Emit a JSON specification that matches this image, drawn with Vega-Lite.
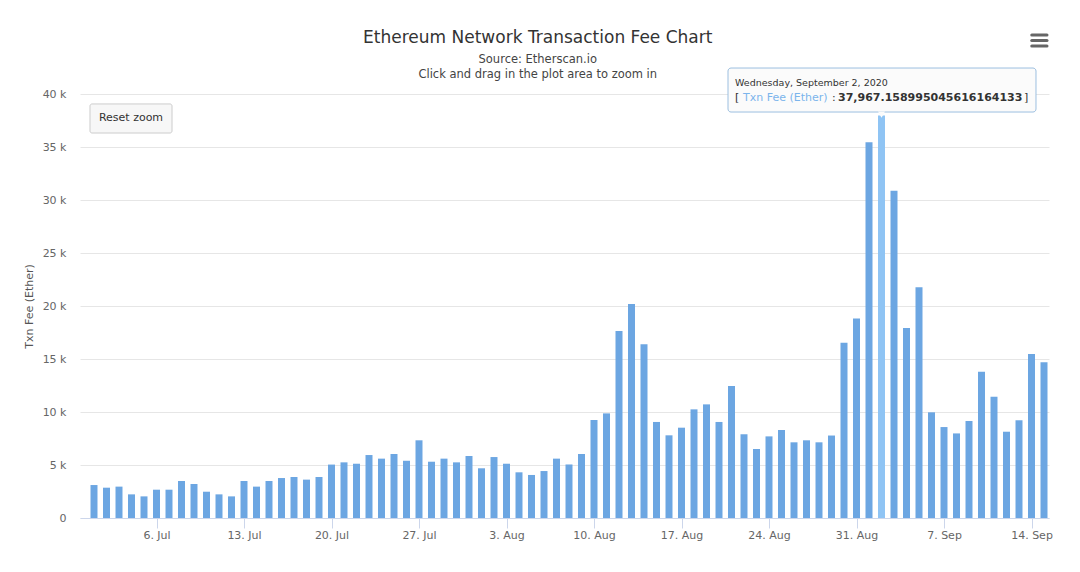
{
  "$schema": "https://vega.github.io/schema/vega-lite/v6.json",
  "autosize": "none",
  "width": 969,
  "height": 424,
  "padding": {"left": 80, "top": 94, "right": 31, "bottom": 54},
  "background": "#ffffff",
  "config": {
    "font": "DejaVu Sans",
    "view": {"stroke": null},
    "axis": {"labelFont": "DejaVu Sans", "titleFont": "DejaVu Sans"}
  },
  "title": {
    "text": "Ethereum Network Transaction Fee Chart",
    "subtitle": ["Source: Etherscan.io", "Click and drag in the plot area to zoom in"],
    "anchor": "middle",
    "frame": "bounds",
    "font": "DejaVu Sans",
    "fontSize": 17,
    "fontWeight": "normal",
    "color": "#333333",
    "subtitleFont": "DejaVu Sans",
    "subtitleFontSize": 11.5,
    "subtitleColor": "#444444",
    "subtitlePadding": 7,
    "subtitleLineHeight": 15,
    "offset": -48
  },
  "data": {
    "values": [
      {"date": "2020-07-01", "fee": 3110},
      {"date": "2020-07-02", "fee": 2860},
      {"date": "2020-07-03", "fee": 2960},
      {"date": "2020-07-04", "fee": 2230},
      {"date": "2020-07-05", "fee": 2040},
      {"date": "2020-07-06", "fee": 2670},
      {"date": "2020-07-07", "fee": 2670},
      {"date": "2020-07-08", "fee": 3490},
      {"date": "2020-07-09", "fee": 3210},
      {"date": "2020-07-10", "fee": 2480},
      {"date": "2020-07-11", "fee": 2230},
      {"date": "2020-07-12", "fee": 2040},
      {"date": "2020-07-13", "fee": 3490},
      {"date": "2020-07-14", "fee": 2960},
      {"date": "2020-07-15", "fee": 3490},
      {"date": "2020-07-16", "fee": 3770},
      {"date": "2020-07-17", "fee": 3870},
      {"date": "2020-07-18", "fee": 3620},
      {"date": "2020-07-19", "fee": 3870},
      {"date": "2020-07-20", "fee": 5040},
      {"date": "2020-07-21", "fee": 5250},
      {"date": "2020-07-22", "fee": 5120},
      {"date": "2020-07-23", "fee": 5940},
      {"date": "2020-07-24", "fee": 5600},
      {"date": "2020-07-25", "fee": 6040},
      {"date": "2020-07-26", "fee": 5400},
      {"date": "2020-07-27", "fee": 7330},
      {"date": "2020-07-28", "fee": 5310},
      {"date": "2020-07-29", "fee": 5600},
      {"date": "2020-07-30", "fee": 5250},
      {"date": "2020-07-31", "fee": 5850},
      {"date": "2020-08-01", "fee": 4690},
      {"date": "2020-08-02", "fee": 5750},
      {"date": "2020-08-03", "fee": 5120},
      {"date": "2020-08-04", "fee": 4310},
      {"date": "2020-08-05", "fee": 4060},
      {"date": "2020-08-06", "fee": 4430},
      {"date": "2020-08-07", "fee": 5600},
      {"date": "2020-08-08", "fee": 5050},
      {"date": "2020-08-09", "fee": 6040},
      {"date": "2020-08-10", "fee": 9250},
      {"date": "2020-08-11", "fee": 9870},
      {"date": "2020-08-12", "fee": 17640},
      {"date": "2020-08-13", "fee": 20190},
      {"date": "2020-08-14", "fee": 16380},
      {"date": "2020-08-15", "fee": 9060},
      {"date": "2020-08-16", "fee": 7800},
      {"date": "2020-08-17", "fee": 8520},
      {"date": "2020-08-18", "fee": 10250},
      {"date": "2020-08-19", "fee": 10720},
      {"date": "2020-08-20", "fee": 9060},
      {"date": "2020-08-21", "fee": 12450},
      {"date": "2020-08-22", "fee": 7900},
      {"date": "2020-08-23", "fee": 6510},
      {"date": "2020-08-24", "fee": 7700},
      {"date": "2020-08-25", "fee": 8300},
      {"date": "2020-08-26", "fee": 7140},
      {"date": "2020-08-27", "fee": 7330},
      {"date": "2020-08-28", "fee": 7140},
      {"date": "2020-08-29", "fee": 7780},
      {"date": "2020-08-30", "fee": 16540},
      {"date": "2020-08-31", "fee": 18830},
      {"date": "2020-09-01", "fee": 35440},
      {"date": "2020-09-02", "fee": 37967.158995045616},
      {"date": "2020-09-03", "fee": 30880},
      {"date": "2020-09-04", "fee": 17920},
      {"date": "2020-09-05", "fee": 21760},
      {"date": "2020-09-06", "fee": 9970},
      {"date": "2020-09-07", "fee": 8580},
      {"date": "2020-09-08", "fee": 7980},
      {"date": "2020-09-09", "fee": 9150},
      {"date": "2020-09-10", "fee": 13800},
      {"date": "2020-09-11", "fee": 11440},
      {"date": "2020-09-12", "fee": 8140},
      {"date": "2020-09-13", "fee": 9220},
      {"date": "2020-09-14", "fee": 15470},
      {"date": "2020-09-15", "fee": 14700}
    ]
  },
  "layer": [
    {
      "mark": {"type": "bar", "width": 7, "clip": false},
      "encoding": {
        "x": {
          "field": "date",
          "type": "temporal",
          "scale": {
            "type": "utc",
            "padding": 0,
            "domain": [
              {"year": 2020, "month": "jun", "date": 29, "hours": 21, "minutes": 7, "utc": true},
              {"year": 2020, "month": "sep", "date": 15, "hours": 9, "minutes": 36, "utc": true}
            ]
          },
          "axis": {
            "title": null,
            "format": "%-d. %b",
            "values": [
              {"year": 2020, "month": "jul", "date": 6, "utc": true},
              {"year": 2020, "month": "jul", "date": 13, "utc": true},
              {"year": 2020, "month": "jul", "date": 20, "utc": true},
              {"year": 2020, "month": "jul", "date": 27, "utc": true},
              {"year": 2020, "month": "aug", "date": 3, "utc": true},
              {"year": 2020, "month": "aug", "date": 10, "utc": true},
              {"year": 2020, "month": "aug", "date": 17, "utc": true},
              {"year": 2020, "month": "aug", "date": 24, "utc": true},
              {"year": 2020, "month": "aug", "date": 31, "utc": true},
              {"year": 2020, "month": "sep", "date": 7, "utc": true},
              {"year": 2020, "month": "sep", "date": 14, "utc": true}
            ],
            "grid": false,
            "domainColor": "#ccd6eb",
            "tickColor": "#ccd6eb",
            "tickSize": 10,
            "labelColor": "#666666",
            "labelFontSize": 11,
            "labelPadding": 1,
            "labelFlush": false
          }
        },
        "y": {
          "field": "fee",
          "type": "quantitative",
          "scale": {"domain": [0, 40000], "nice": false},
          "axis": {
            "title": "Txn Fee (Ether)",
            "titleColor": "#555555",
            "titleFontSize": 11,
            "titleFontWeight": "normal",
            "titlePadding": 8,
            "values": [0, 5000, 10000, 15000, 20000, 25000, 30000, 35000, 40000],
            "labelExpr": "datum.value == 0 ? '0' : (datum.value / 1000) + ' k'",
            "domain": false,
            "ticks": false,
            "gridColor": "#e6e6e6",
            "labelColor": "#666666",
            "labelFontSize": 11,
            "labelPadding": 14
          }
        },
        "color": {
          "condition": {"test": "datum.fee > 37000", "value": "#8fc4f4"},
          "value": "#6ca6e2"
        }
      }
    },
    {
      "data": {"values": [{}]},
      "mark": {"type": "rect", "fill": "#fbfbfb", "stroke": "#9cbfe0", "strokeWidth": 1, "cornerRadius": 3, "clip": false},
      "encoding": {
        "x": {"datum": {"year": 2020, "month": "aug", "date": 20, "hours": 17, "minutes": 17, "utc": true}, "type": "temporal"},
        "x2": {"datum": {"year": 2020, "month": "sep", "date": 14, "hours": 8, "minutes": 38, "utc": true}},
        "y": {"datum": 42450, "type": "quantitative"},
        "y2": {"datum": 38300}
      }
    },
    {
      "data": {"values": [{}]},
      "mark": {"type": "point", "shape": "triangle-down", "size": 50, "filled": true, "fill": "#fbfbfb", "opacity": 1, "clip": false},
      "encoding": {
        "x": {"datum": {"year": 2020, "month": "sep", "date": 2, "utc": true}, "type": "temporal"},
        "y": {"datum": 38050, "type": "quantitative"}
      }
    },
    {
      "data": {"values": [{}]},
      "mark": {"type": "text", "text": "Wednesday, September 2, 2020", "align": "left", "baseline": "alphabetic", "dx": 7, "fontSize": 9.5, "color": "#333333", "clip": false},
      "encoding": {
        "x": {"datum": {"year": 2020, "month": "aug", "date": 20, "hours": 17, "minutes": 17, "utc": true}, "type": "temporal"},
        "y": {"datum": 40750, "type": "quantitative"}
      }
    },
    {
      "data": {"values": [{}]},
      "mark": {"type": "text", "text": "[", "align": "left", "baseline": "alphabetic", "dx": 7, "fontSize": 11, "color": "#333333", "clip": false},
      "encoding": {
        "x": {"datum": {"year": 2020, "month": "aug", "date": 20, "hours": 17, "minutes": 17, "utc": true}, "type": "temporal"},
        "y": {"datum": 39340, "type": "quantitative"}
      }
    },
    {
      "data": {"values": [{}]},
      "mark": {"type": "text", "text": "Txn Fee (Ether)", "align": "left", "baseline": "alphabetic", "dx": 15, "fontSize": 11, "color": "#7cb5ec", "clip": false},
      "encoding": {
        "x": {"datum": {"year": 2020, "month": "aug", "date": 20, "hours": 17, "minutes": 17, "utc": true}, "type": "temporal"},
        "y": {"datum": 39340, "type": "quantitative"}
      }
    },
    {
      "data": {"values": [{}]},
      "mark": {"type": "text", "text": ":", "align": "left", "baseline": "alphabetic", "dx": 104, "fontSize": 11, "color": "#333333", "clip": false},
      "encoding": {
        "x": {"datum": {"year": 2020, "month": "aug", "date": 20, "hours": 17, "minutes": 17, "utc": true}, "type": "temporal"},
        "y": {"datum": 39340, "type": "quantitative"}
      }
    },
    {
      "data": {"values": [{}]},
      "mark": {"type": "text", "text": "37,967.158995045616164133", "align": "left", "baseline": "alphabetic", "dx": 110, "fontSize": 11, "fontWeight": "bold", "color": "#333333", "clip": false},
      "encoding": {
        "x": {"datum": {"year": 2020, "month": "aug", "date": 20, "hours": 17, "minutes": 17, "utc": true}, "type": "temporal"},
        "y": {"datum": 39340, "type": "quantitative"}
      }
    },
    {
      "data": {"values": [{}]},
      "mark": {"type": "text", "text": "]", "align": "left", "baseline": "alphabetic", "dx": 296, "fontSize": 11, "color": "#333333", "clip": false},
      "encoding": {
        "x": {"datum": {"year": 2020, "month": "aug", "date": 20, "hours": 17, "minutes": 17, "utc": true}, "type": "temporal"},
        "y": {"datum": 39340, "type": "quantitative"}
      }
    },
    {
      "data": {"values": [{}]},
      "mark": {"type": "rect", "fill": "#f7f7f7", "stroke": "#cccccc", "strokeWidth": 1, "cornerRadius": 2, "clip": false},
      "encoding": {
        "x": {"datum": {"year": 2020, "month": "jun", "date": 30, "hours": 16, "minutes": 19, "utc": true}, "type": "temporal"},
        "x2": {"datum": {"year": 2020, "month": "jul", "date": 7, "hours": 5, "minutes": 46, "utc": true}},
        "y": {"datum": 39060, "type": "quantitative"},
        "y2": {"datum": 36320}
      }
    },
    {
      "data": {"values": [{}]},
      "mark": {"type": "text", "text": "Reset zoom", "align": "center", "baseline": "middle", "fontSize": 11, "color": "#333333", "clip": false},
      "encoding": {
        "x": {"datum": {"year": 2020, "month": "jul", "date": 3, "hours": 23, "minutes": 2, "utc": true}, "type": "temporal"},
        "y": {"datum": 37740, "type": "quantitative"}
      }
    },
    {
      "data": {"values": [{}]},
      "mark": {"type": "rule", "color": "#666666", "strokeWidth": 3, "strokeCap": "round", "clip": false},
      "encoding": {
        "x": {"datum": {"year": 2020, "month": "sep", "date": 14, "hours": 0, "minutes": 29, "utc": true}, "type": "temporal"},
        "x2": {"datum": {"year": 2020, "month": "sep", "date": 15, "hours": 5, "minutes": 46, "utc": true}},
        "y": {"datum": 45570, "type": "quantitative"}
      }
    },
    {
      "data": {"values": [{}]},
      "mark": {"type": "rule", "color": "#666666", "strokeWidth": 3, "strokeCap": "round", "clip": false},
      "encoding": {
        "x": {"datum": {"year": 2020, "month": "sep", "date": 14, "hours": 0, "minutes": 29, "utc": true}, "type": "temporal"},
        "x2": {"datum": {"year": 2020, "month": "sep", "date": 15, "hours": 5, "minutes": 46, "utc": true}},
        "y": {"datum": 45050, "type": "quantitative"}
      }
    },
    {
      "data": {"values": [{}]},
      "mark": {"type": "rule", "color": "#666666", "strokeWidth": 3, "strokeCap": "round", "clip": false},
      "encoding": {
        "x": {"datum": {"year": 2020, "month": "sep", "date": 14, "hours": 0, "minutes": 29, "utc": true}, "type": "temporal"},
        "x2": {"datum": {"year": 2020, "month": "sep", "date": 15, "hours": 5, "minutes": 46, "utc": true}},
        "y": {"datum": 44530, "type": "quantitative"}
      }
    }
  ]
}
